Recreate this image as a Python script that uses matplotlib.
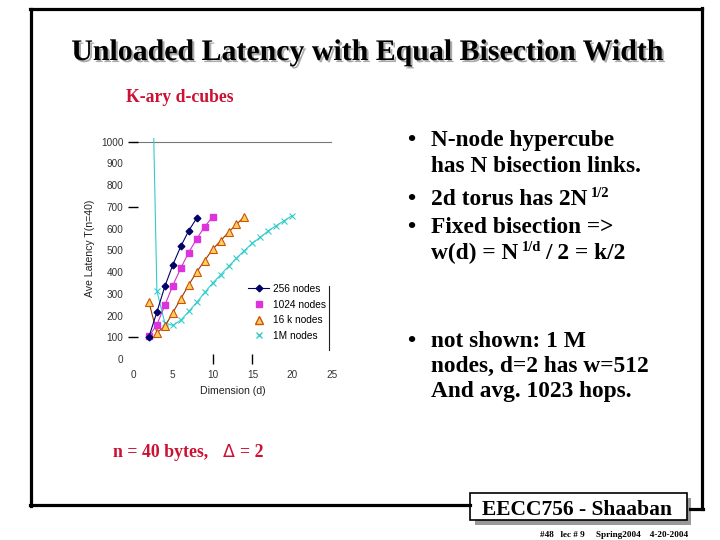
import numpy as np
import matplotlib
matplotlib.use('Agg')
import matplotlib.pyplot as plt
import matplotlib.patheffects as pe
from matplotlib.lines import Line2D
from matplotlib.patches import Rectangle

# data
d_256 = [2, 3, 4, 5, 6, 7, 8]
lat_256 = [102, 216, 334, 433, 518, 590, 648]
d_1024 = [2, 3, 4, 5, 6, 7, 8, 9, 10]
lat_1024 = [104, 158, 247, 338, 418, 490, 553, 608, 655]
d_16k = [2, 3, 4, 5, 6, 7, 8, 9, 10, 11, 12, 13, 14]
lat_16k = [262, 121, 150, 213, 277, 341, 400, 453, 504, 544, 583, 620, 655]
d_1m = [2, 3, 4, 5, 6, 7, 8, 9, 10, 11, 12, 13, 14, 15, 16, 17, 18, 19, 20]
lat_1m = [2100, 314, 165, 155, 178, 219, 260, 306, 349, 387, 426, 464,
          499, 533, 560, 590, 614, 636, 660]
labels = ['256 nodes', '1024 nodes', '16 k nodes', '1M nodes']
xticks = [0, 5, 10, 15, 20, 25]
yticks = [0, 100, 200, 300, 400, 500, 600, 700, 800, 900, 1000]

W, H = 720, 540


def fx(x):
    return x / W


def fy(y):
    return 1 - y / H


fig = plt.figure(figsize=(7.2, 5.4), dpi=100)
fig.patch.set_facecolor('white')

# chart
ax = fig.add_axes([fx(133), fy(359), fx(332) - fx(133), fy(138.4) - fy(359)])
ax.set_xlim(0, 25)
ax.set_ylim(0, 1015)
for s in ax.spines.values():
    s.set_visible(False)
ax.axhline(1000, color='#777777', lw=0.8, zorder=1)

navy, mag, brown, cyan = '#000066', '#cc33cc', '#993300', '#33cccc'
ax.plot(d_256, lat_256, color=navy, lw=0.8, marker='D', ms=3.4,
        mfc=navy, mec=navy, zorder=5)
ax.plot(d_1024, lat_1024, color=mag, lw=0.8, marker='s', ms=4.6,
        mfc='#dd33dd', mec='#dd33dd', zorder=4)
ax.plot(d_16k, lat_16k, color=brown, lw=0.8, marker='^', ms=5.2,
        mfc='#ffcc66', mec='#cc5500', mew=0.8, zorder=3)
ax.plot(d_1m, lat_1m, color=cyan, lw=0.8, marker='x', ms=4.6,
        mec=cyan, mew=0.8, zorder=2)

ax.set_xticks(xticks)
ax.set_yticks(yticks)
ax.tick_params(which='major', length=0, labelsize=7.2, colors='#333333')
ax.tick_params(axis='x', which='major', pad=8)
ax.tick_params(axis='y', which='major', pad=7)
# the odd little tick marks seen on the slide
ax.xaxis.remove_overlapping_locs = False
ax.yaxis.remove_overlapping_locs = False
ax.set_yticks([100, 700, 1000], minor=True)
ax.set_xticks([10, 15], minor=True)
ax.tick_params(which='minor', direction='inout', length=7, width=1.0,
               color='black')
for t in ax.get_xticklabels() + ax.get_yticklabels():
    t.set_fontfamily('Liberation Sans')
ax.set_xlabel('Dimension (d)', fontsize=7.6, family='Liberation Sans',
              color='#222222', labelpad=4)
ax.set_ylabel('Ave Latency T(n=40)', fontsize=7.6, family='Liberation Sans',
              color='#222222', labelpad=4)

handles = [
    Line2D([], [], color=navy, lw=0.8, marker='D', ms=3.4),
    Line2D([], [], ls='none', marker='s', ms=4.6, mfc='#dd33dd', mec='#dd33dd'),
    Line2D([], [], ls='none', marker='^', ms=5.2, mfc='#ffcc66', mec='#cc5500'),
    Line2D([], [], ls='none', marker='x', ms=4.6, mec=cyan),
]
ax.legend(handles, labels, loc='upper left', bbox_to_anchor=(0.58, 0.34),
          frameon=False, prop={'family': 'Liberation Sans', 'size': 7.3},
          handlelength=2.0, handletextpad=0.4, labelspacing=0.55,
          borderpad=0, borderaxespad=0)
ax.plot([0.985, 0.985], [0.04, 0.33], transform=ax.transAxes,
        color='#222222', lw=0.8, clip_on=False)

# slide frame
lw_frame = 2.3
fig.add_artist(Line2D([fx(31), fx(31)], [fy(9), fy(506)], color='black', lw=lw_frame))
fig.add_artist(Line2D([fx(30), fx(702)], [fy(9), fy(9)], color='black', lw=lw_frame))
fig.add_artist(Line2D([fx(702), fx(702)], [fy(8), fy(509)], color='black', lw=lw_frame))
fig.add_artist(Line2D([fx(30), fx(470)], [fy(505), fy(505)], color='black', lw=lw_frame))
fig.add_artist(Line2D([fx(690), fx(703)], [fy(509), fy(509)], color='black', lw=lw_frame))

# footer box
fig.add_artist(Rectangle((fx(475), fy(525)), fx(216), 27 / H,
                         facecolor='#999999', edgecolor='none'))
fig.add_artist(Rectangle((fx(470), fy(520)), fx(217), 27 / H,
                         facecolor='white', edgecolor='black', lw=1.2))
serif = 'Liberation Serif'
fig.text(fx(577), fy(515), 'EECC756 - Shaaban', ha='center', va='baseline',
         family=serif, weight='bold', size=15.5)
fig.text(fx(688), fy(537), '#48   lec # 9     Spring2004    4-20-2004',
         ha='right', va='baseline', family=serif, weight='bold', size=6.6)

# title and red captions
fig.text(fx(368), fy(60), 'Unloaded Latency with Equal Bisection Width',
         ha='center', va='baseline', family=serif, weight='bold', size=21.5,
         path_effects=[pe.withSimplePatchShadow(offset=(1.5, -1.5),
                                                shadow_rgbFace='#888888',
                                                alpha=0.7)])
red = '#cc1133'
fig.text(fx(126), fy(102), 'K-ary d-cubes', ha='left', va='baseline',
         family=serif, weight='bold', size=12.7, color=red)
fig.text(fx(113), fy(457), 'n = 40 bytes,', ha='left', va='baseline',
         family=serif, weight='bold', size=12.8, color=red)
fig.text(fx(223), fy(457), 'Δ', ha='left', va='baseline',
         family='DejaVu Sans', size=12.5, color=red)
fig.text(fx(240), fy(457), '= 2', ha='left', va='baseline',
         family=serif, weight='bold', size=12.8, color=red)

# bullets
bsize = 16.8
bullets = [146, 205, 233, 347]
for by in bullets:
    fig.text(fx(407), fy(by), '•', ha='left', va='baseline', family=serif,
             weight='bold', size=bsize)

plain_lines = [
    ('N-node hypercube', 146),
    ('has N bisection links.', 172),
    ('Fixed bisection =>', 233),
    ('not shown: 1 M', 347),
    ('nodes, d=2 has w=512', 372),
    ('And avg. 1023 hops.', 397),
]
for txt, by in plain_lines:
    fig.text(fx(431), fy(by), txt, ha='left', va='baseline', family=serif,
             weight='bold', size=bsize)

# lines with superscripts
fig.canvas.draw()
renderer = fig.canvas.get_renderer()


def chain(parts, x0, by):
    x = x0
    for txt, sup in parts:
        size = bsize * 0.62 if sup else bsize
        yy = by - 8 if sup else by
        t = fig.text(fx(x), fy(yy), txt, ha='left', va='baseline',
                     family=serif, weight='bold', size=size)
        bb = t.get_window_extent(renderer)
        x = bb.x1 + 4


chain([('2d torus has 2N', False), ('1/2', True)], 431, 205)
chain([('w(d) = N', False), ('1/d', True), ('/ 2 = k/2', False)], 431, 259)

fig.savefig('out.png', dpi=100, facecolor='white')
